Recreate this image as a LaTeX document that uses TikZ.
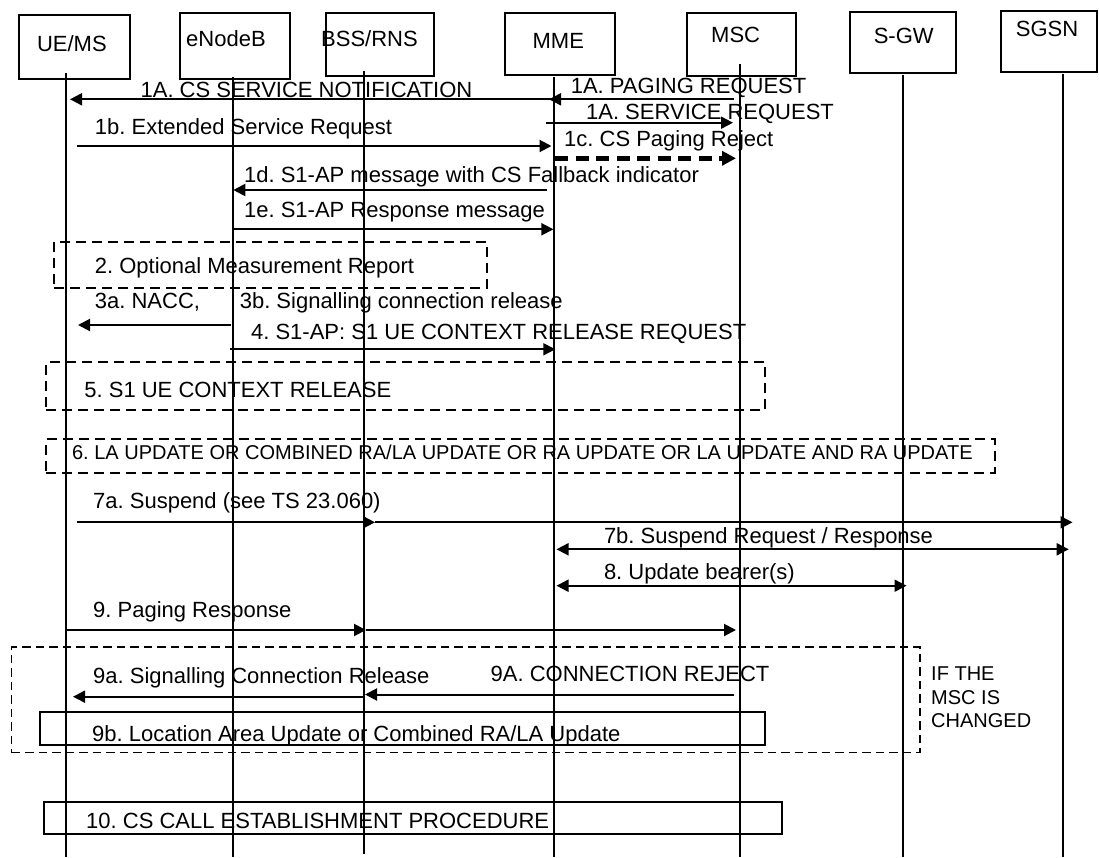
\documentclass[tikz,border=0pt]{standalone}
\usepackage{fontspec}
\setmainfont{Liberation Sans}
\usetikzlibrary{arrows.meta,calc}
\frenchspacing
\begin{document}
\begin{tikzpicture}[x=1pt,y=-1pt,
  hdr/.style={draw, line width=2pt, inner sep=0pt, outer sep=0pt},
  lbl/.style={anchor=base west, inner sep=0pt, font=\fontsize{22}{26}\selectfont},
  lbls/.style={anchor=base west, inner sep=0pt, font=\fontsize{20}{23}\selectfont},
  life/.style={line width=2pt},
  msg/.style={line width=2pt, -{Triangle[length=12pt,width=12pt]}},
  dmsg/.style={line width=2pt, {Triangle[length=12pt,width=12pt]}-{Triangle[length=12pt,width=12pt]}},
  dashmsg/.style={line width=4.5pt, dash pattern=on 13pt off 7.5pt, -{Triangle[length=14pt,width=14pt]}},
  grp/.style={draw, line width=2pt, dash pattern=on 10pt off 6pt, inner sep=0pt, outer sep=0pt},
  biggrp/.style={draw, line width=1.2pt, dash pattern=on 8.5pt off 5pt, inner sep=0pt, outer sep=0pt},
  solidgrp/.style={draw, line width=2pt, inner sep=0pt, outer sep=0pt}
]
\useasboundingbox (0,0) rectangle (1099,858);

% header boxes
\node[hdr, minimum width=110.5pt, minimum height=64pt] (ueBox) at (74.55,47) {};
\node[hdr, minimum width=109.9pt, minimum height=65.7pt] (enbBox) at (234.55,46.15) {};
\node[hdr, minimum width=108.8pt, minimum height=62.7pt] (bssBox) at (380,44.65) {};
\node[hdr, minimum width=110pt, minimum height=61.7pt] (mmeBox) at (560,44.15) {};
\node[hdr, minimum width=109.2pt, minimum height=62.7pt] (mscBox) at (741.1,44.65) {};
\node[hdr, minimum width=106.3pt, minimum height=61pt] (sgwBox) at (902.85,42.8) {};
\node[hdr, minimum width=96pt, minimum height=61pt] (sgsnBox) at (1049,41.2) {};

\node[lbl] (hUE) at (36.8,51.5) {UE/MS};
\node[lbl] (hENB) at (186,47) {eNodeB};
\node[lbl] (hBSS) at (321,47) {BSS/RNS};
\node[lbl] (hMME) at (532.4,49) {MME};
\node[lbl] (hMSC) at (711,43) {MSC};
\node[lbl] (hSGW) at (873.6,44) {S-GW};
\node[lbl] (hSGSN) at (1015.7,37) {SGSN};

% lifelines
\coordinate (ue) at (66,72.7);   \coordinate (ueE) at (66,857);
\coordinate (enb) at (233,77);   \coordinate (enbE) at (233,857);
\coordinate (bss) at (364,70.7); \coordinate (bssE) at (364,854);
\coordinate (mme) at (554,77.3); \coordinate (mmeE) at (554,857);
\coordinate (msc) at (740,64);   \coordinate (mscE) at (740,857);
\coordinate (sgw) at (903,75);   \coordinate (sgwE) at (903,857);
\coordinate (sgsn) at (1063,74); \coordinate (sgsnE) at (1063,857);
\foreach \l in {ue,enb,bss,mme,msc,sgw,sgsn} {\draw[life] (\l) -- (\l E);}

% group boxes
\node[grp, minimum width=432.6pt, minimum height=46.6pt] (g2) at (270.7,265) {};
\node[grp, minimum width=719pt, minimum height=47.7pt] (g5) at (405.8,386.15) {};
\node[grp, minimum width=948.7pt, minimum height=33.4pt] (g6) at (520.65,456) {};
\node[biggrp, minimum width=908.5pt, minimum height=105.7pt] (g9) at (465.75,699.85) {};
\node[solidgrp, minimum width=724.1pt, minimum height=33.3pt] (g9b) at (402.45,728.35) {};
\node[solidgrp, minimum width=738.5pt, minimum height=32pt] (g10) at (413.15,818.3) {};

% messages
\draw[msg] ($(msc |- 0,99.3)+(-6.4,0)$) -- ($(mme |- 0,99.3)+(-5,0)$);
\draw[msg] ($(mme |- 0,99.3)$) -- ($(ue |- 0,99.3)+(4,0)$);
\draw[msg] ($(mme |- 0,122.7)+(-8,0)$) -- ($(msc |- 0,122.7)+(-7,0)$);
\draw[msg] ($(ue |- 0,146)+(10.5,0)$) -- ($(mme |- 0,146)+(-2.5,0)$);
\draw[dashmsg] ($(mme |- 0,158.3)+(1,0)$) -- ($(msc |- 0,158.3)+(-4,0)$);
\draw[msg] ($(mme |- 0,190)+(-7.4,0)$) -- ($(enb |- 0,190)+(0.3,0)$);
\draw[msg] ($(enb |- 0,229.3)+(0.3,0)$) -- ($(mme |- 0,229.3)+(-0.6,0)$);
\draw[msg] ($(enb |- 0,325)+(-2,0)$) -- ($(ue |- 0,325)+(12,0)$);
\draw[msg] ($(enb |- 0,349.3)+(-3,0)$) -- ($(mme |- 0,349.3)+(1.3,0)$);
\draw[msg] ($(ue |- 0,522.3)+(10.5,0)$) -- ($(bss |- 0,522.3)+(11,0)$);
\draw[msg] ($(bss |- 0,522.3)+(11,0)$) -- ($(sgsn |- 0,522.3)+(9.5,0)$);
\draw[dmsg] ($(mme |- 0,549.3)+(2.5,0)$) -- ($(sgsn |- 0,549.3)+(5.7,0)$);
\draw[dmsg] ($(mme |- 0,585.7)+(2.5,0)$) -- ($(sgw |- 0,585.7)+(3.5,0)$);
\draw[msg] ($(ue |- 0,630)+(0.7,0)$) -- ($(bss |- 0,630)+(2,0)$);
\draw[msg] ($(bss |- 0,630)+(2,0)$) -- ($(msc |- 0,630)+(-4,0)$);
\draw[msg] ($(msc |- 0,694.5)+(-6.4,0)$) -- ($(bss |- 0,694.5)+(1,0)$);
\draw[msg] ($(bss |- 0,696.7)+(1,0)$) -- ($(ue |- 0,696.7)+(7,0)$);

% labels
\node[lbl] (t1Acs) at (140.4,97.3) {1A. CS SERVICE NOTIFICATION};
\node[lbl] (t1Apr) at (570.6,94) {1A. PAGING REQUEST};
\node[lbl] (t1Asr) at (585.9,120) {1A. SERVICE REQUEST};
\node[lbl] (t1b) at (94.7,134.6) {1b. Extended Service Request};
\node[lbl] (t1c) at (564,146.2) {1c. CS Paging Reject};
\node[lbl] (t1d) at (243.9,183) {1d. S1-AP message with CS Fallback indicator};
\node[lbl] (t1e) at (243.9,218) {1e. S1-AP Response message};
\node[lbl] (t2) at (94.7,274) {2. Optional Measurement Report};
\node[lbl] (t3a) at (94.7,308.6) {3a. NACC,};
\node[lbl] (t3b) at (239.6,308.6) {3b. Signalling connection release};
\node[lbl] (t4) at (250.9,339.6) {4. S1-AP: S1 UE CONTEXT RELEASE REQUEST};
\node[lbl] (t5) at (84.2,397.2) {5. S1 UE CONTEXT RELEASE};
\node[lbls] (t6) at (71.9,459.5) {6. LA UPDATE OR COMBINED RA/LA UPDATE OR RA UPDATE OR LA UPDATE AND RA UPDATE};
\node[lbl] (t7a) at (93,508) {7a. Suspend (see TS 23.060)};
\node[lbl] (t7b) at (603.8,543) {7b. Suspend Request / Response};
\node[lbl] (t8) at (603.8,579.6) {8. Update bearer(s)};
\node[lbl] (t9) at (93,617.2) {9. Paging Response};
\node[lbl] (t9a) at (93,683) {9a. Signalling Connection Release};
\node[lbl] (t9A) at (490.5,681.2) {9A. CONNECTION REJECT};
\node[lbl] (t9b) at (92,741.2) {9b. Location Area Update or Combined RA/LA Update};
\node[lbl] (t10) at (86,828) {10. CS CALL ESTABLISHMENT PROCEDURE};
\node[lbls] (tif1) at (931,680.5) {IF THE};
\node[lbls] (tif2) at (931,704) {MSC IS};
\node[lbls] (tif3) at (931,727.3) {CHANGED};
\end{tikzpicture}
\end{document}
